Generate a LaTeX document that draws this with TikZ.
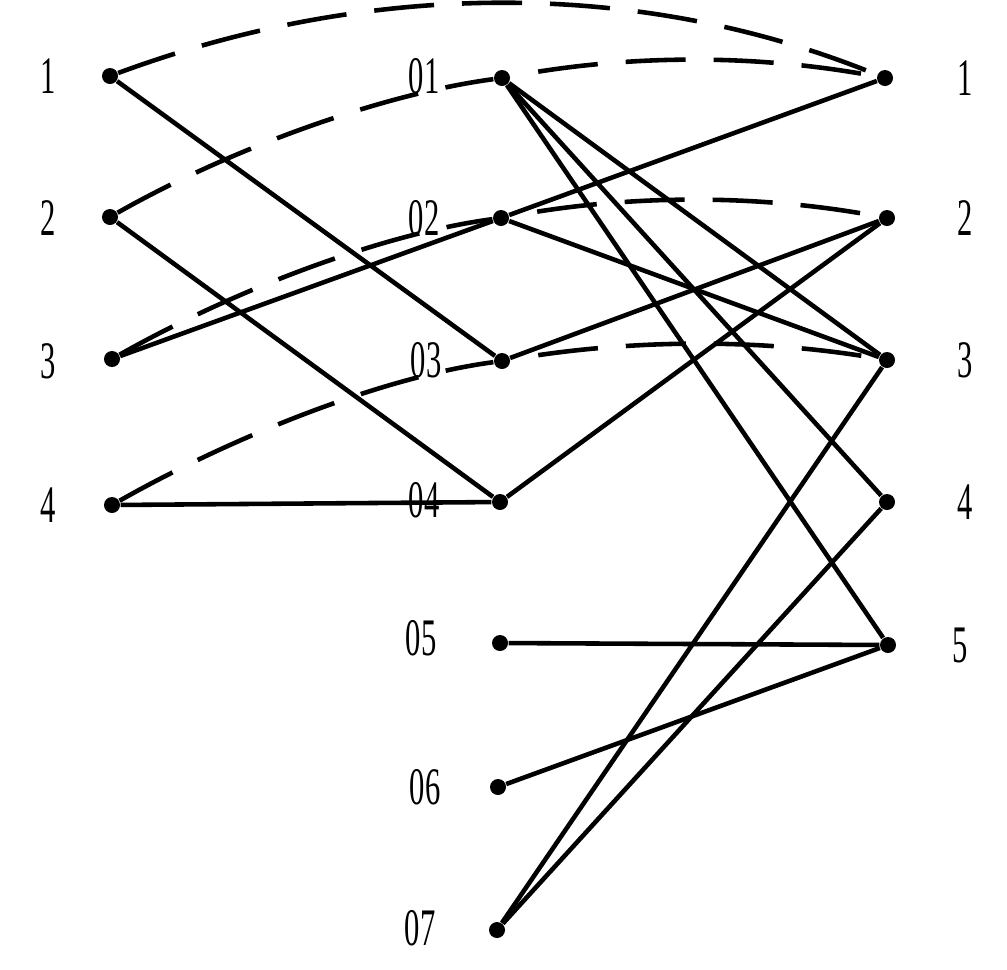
\documentclass[tikz,border=0pt]{standalone}
\usepackage{fontspec}
\newfontfamily\tallfont[FakeStretch=0.58]{Liberation Serif}

\begin{document}
\begin{tikzpicture}[x=0.01cm, y=-0.01cm,
    vertex/.style={circle, fill=black, inner sep=0pt, minimum size=0.16cm},
    lbl/.style={font=\tallfont\fontsize{15}{15}\selectfont, inner sep=0pt},
    link/.style={line width=1.3pt},
    dlink/.style={link, dash pattern=on 0.6cm off 0.28cm},
    dlinkr/.style={dlink, dash phase=0.6cm},
  ]
    \useasboundingbox (0,0) rectangle (1007,969);

    % Left column
    \node[vertex] (l1) at (110,76)  {};
    \node[vertex] (l2) at (110,217) {};
    \node[vertex] (l3) at (112,359) {};
    \node[vertex] (l4) at (112,505) {};

    % Middle column
    \node[vertex] (m1) at (502,78)  {};
    \node[vertex] (m2) at (501,218) {};
    \node[vertex] (m3) at (502,361) {};
    \node[vertex] (m4) at (500,502) {};
    \node[vertex] (m5) at (500,643) {};
    \node[vertex] (m6) at (498,787) {};
    \node[vertex] (m7) at (497,930) {};

    % Right column
    \node[vertex] (r1) at (885,78)  {};
    \node[vertex] (r2) at (887,218) {};
    \node[vertex] (r3) at (887,360) {};
    \node[vertex] (r4) at (887,502) {};
    \node[vertex] (r5) at (888,645) {};

    % Labels
    \node[lbl] at (48,76)  {1};
    \node[lbl] at (48,218) {2};
    \node[lbl] at (48,361) {3};
    \node[lbl] at (48,505) {4};
    \node[lbl] at (424,76)  {01};
    \node[lbl] at (424,218) {02};
    \node[lbl] at (426,360) {03};
    \node[lbl] at (424,500) {04};
    \node[lbl] at (421,638) {05};
    \node[lbl] at (425,787) {06};
    \node[lbl] at (420,928) {07};
    \node[lbl] at (965,78)  {1};
    \node[lbl] at (965,218) {2};
    \node[lbl] at (965,360) {3};
    \node[lbl] at (965,502) {4};
    \node[lbl] at (960,645) {5};

    % Solid links
    \draw[link] (l1) -- (m3);
    \draw[link] (l2) -- (m4);
    \draw[link] (l3) -- (m2);
    \draw[link] (l4) -- (m4);
    \draw[link] (m2) -- (r1);
    \draw[link] (m1) -- (r3);
    \draw[link] (m1) -- (r4);
    \draw[link] (m1) -- (r5);
    \draw[link] (m2) -- (r3);
    \draw[link] (m3) -- (r2);
    \draw[link] (m4) -- (r2);
    \draw[link] (m5) -- (r5);
    \draw[link] (m6) -- (r5);
    \draw[link] (m7) -- (r3);
    \draw[link] (m7) -- (r4);

    % Dashed links
    \draw[dlink] (l1) .. controls +(260,-96) and +(-245,-100) .. (r1);
    \draw[dlink] (l2) .. controls +(120,-68) and +(-120,16) .. (m1);
    \draw[dlink] (l3) .. controls +(120,-68) and +(-120,16) .. (m2);
    \draw[dlink] (l4) .. controls +(120,-68) and +(-120,16) .. (m3);
    \draw[dlinkr] (m1) .. controls +(128,-24) and +(-128,-24) .. (r1);
    \draw[dlinkr] (m2) .. controls +(128,-24) and +(-128,-24) .. (r2);
    \draw[dlinkr] (m3) .. controls +(128,-22) and +(-128,-22) .. (r3);

  \end{tikzpicture}
\end{document}
